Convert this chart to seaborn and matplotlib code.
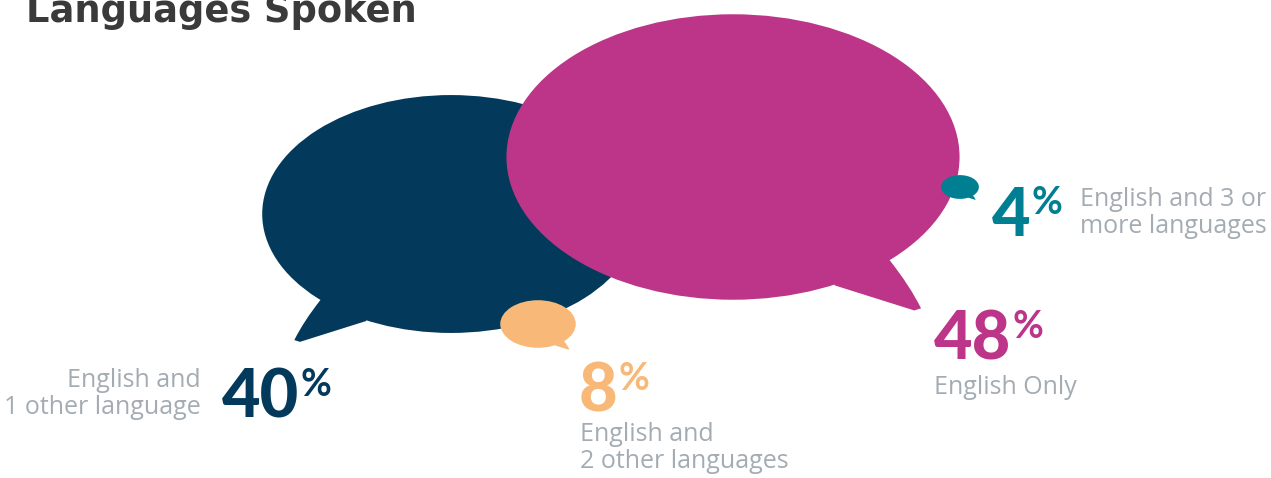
import matplotlib
matplotlib.use("Agg")
import matplotlib.pyplot as plt
import seaborn as sns
from matplotlib.patches import Ellipse, PathPatch
from matplotlib.path import Path

# ---------------- data ----------------
title = "Languages Spoken"
categories = ["English Only", "English and 1 other language",
              "English and 2 other languages", "English and 3 or more languages"]
values = [48, 40, 8, 4]
label_lines = [["English Only"],
               ["English and", "1 other language"],
               ["English and", "2 other languages"],
               ["English and 3 or", "more languages"]]
colors = ["#bc3589", "#033a5c", "#f8b878", "#007f93"]

# ---------------- layout (pixel-like data units) ----------------
W, H = 1271, 478
centers = [(733, 157), (451, 214), (538, 324), (960, 187)]
flipped = [False, True, False, False]
zorders = [2, 1, 3, 4]
num_pos = [(934, 360), (222, 418), (579, 412), (992, 236)]
lab_pos = [(934, 394, "left"), (201, 387, "right"), (580, 441, "left"), (1080, 206, "left")]
line_gap = 27
width_per_pct = 9.44      # bubble width scales with the value
aspect = 0.63

sns.set_theme(style="white")
plt.rcParams["font.family"] = ["Open Sans", "DejaVu Sans"]

fig = plt.figure(figsize=(W / 100, H / 100), dpi=100)
ax = fig.add_axes([0, 0, 1, 1])
ax.set_xlim(0, W)
ax.set_ylim(H, 0)
ax.axis("off")


def bubble(cx, cy, val, color, flip, z):
    a = val * width_per_pct / 2
    b = a * aspect
    ax.add_patch(Ellipse((cx, cy), 2 * a, 2 * b, facecolor=color,
                         edgecolor="none", zorder=z))
    s = -1 if flip else 1
    pts = [(0.69, 0.72), (0.78, 0.90), (0.83, 1.06), (0.80, 1.075),
           (0.45, 0.90), (0.30, 0.50), (0.69, 0.72)]
    verts = [(cx + s * u * a, cy + v * b) for u, v in pts]
    codes = [Path.MOVETO, Path.CURVE3, Path.CURVE3, Path.LINETO,
             Path.LINETO, Path.LINETO, Path.CLOSEPOLY]
    ax.add_patch(PathPatch(Path(verts, codes), facecolor=color,
                           edgecolor="none", zorder=z))


for i, v in enumerate(values):
    bubble(centers[i][0], centers[i][1], v, colors[i], flipped[i], zorders[i])

# title
ax.text(26, 22, title, fontsize=26.5, fontweight="bold", color="#3a3a3a",
        family=["DejaVu Sans"], va="baseline", ha="left")

# numbers
num_texts = []
for i, v in enumerate(values):
    x, y = num_pos[i]
    t = ax.text(x, y, f"{v}", fontsize=48, fontweight="black", color=colors[i],
                family=["Lato", "DejaVu Sans"], va="baseline", ha="left", zorder=5)
    num_texts.append(t)

fig.canvas.draw()
r = fig.canvas.get_renderer()
inv = ax.transData.inverted()
for i, t in enumerate(num_texts):
    bb = t.get_window_extent(renderer=r)
    x1 = inv.transform((bb.x1, bb.y0))[0]
    x, y = num_pos[i]
    ax.text(x1 + 1, y - 22, "%", fontsize=27, fontweight="bold", color=colors[i],
            family=["Lato", "DejaVu Sans"], va="baseline", ha="left", zorder=5)

# labels
for i, lines in enumerate(label_lines):
    x, y, ha = lab_pos[i]
    for j, line in enumerate(lines):
        ax.text(x, y + j * line_gap, line, fontsize=18, color="#a4acb3",
                va="baseline", ha=ha, zorder=5)

fig.savefig("out.png", dpi=100, facecolor="white")
